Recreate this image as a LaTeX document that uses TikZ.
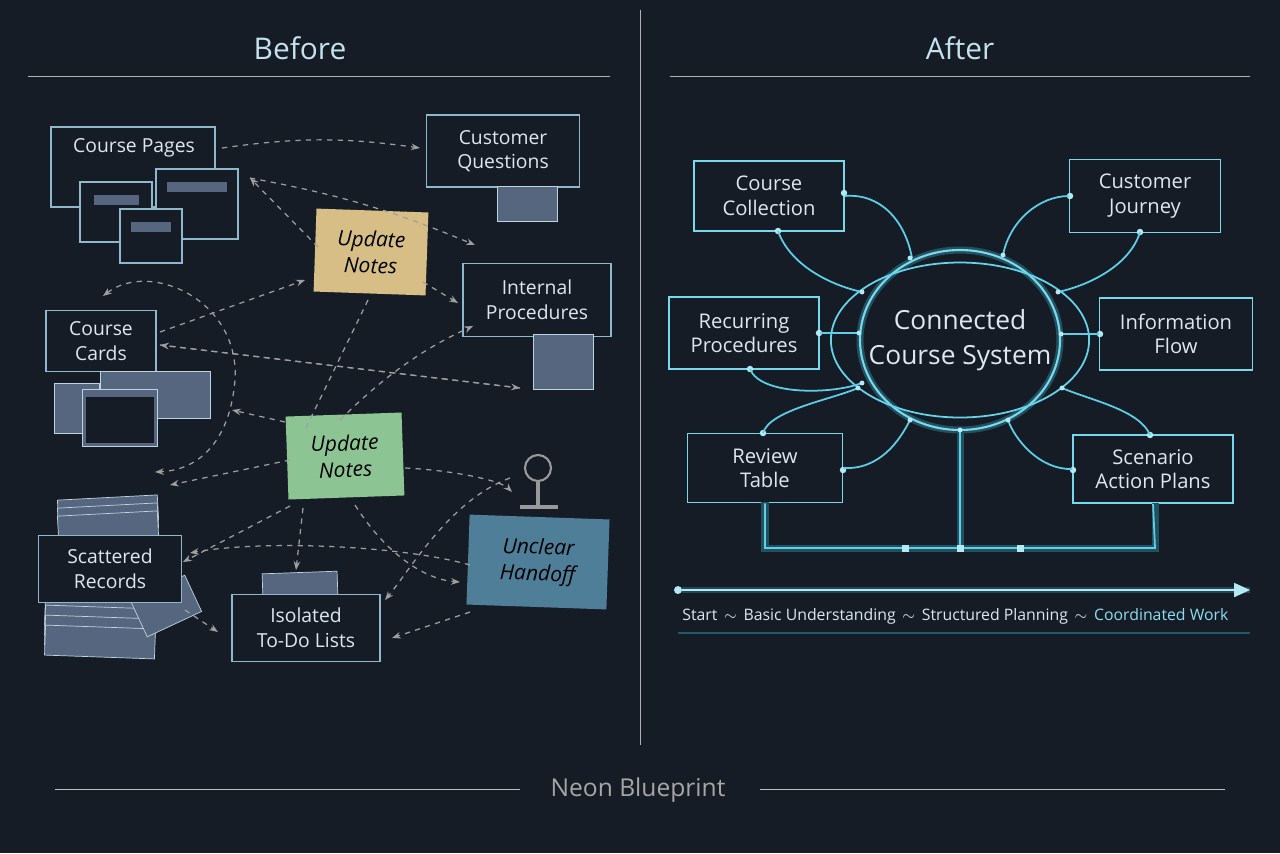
\documentclass[tikz,border=0pt]{standalone}
\usepackage{fontspec}
\setmainfont{Open Sans}
\usetikzlibrary{calc,arrows.meta,shapes.geometric}
\definecolor{bgdark}{HTML}{161C26}
\definecolor{wire}{HTML}{8FB8CC}
\definecolor{inktext}{HTML}{DCE7EF}
\definecolor{neon}{HTML}{3FC8E4}
\definecolor{paper}{HTML}{56667E}
\definecolor{noteyellow}{HTML}{D6BE86}
\definecolor{notegreen}{HTML}{8CC593}
\definecolor{noteblue}{HTML}{4F7E99}
\tikzset{
  box/.style={rectangle,draw=wire,line width=0.9pt,fill=bgdark,text=inktext,align=center,font=\fontsize{11}{14}\selectfont},
  sbox/.style={rectangle,draw=wire,line width=0.7pt,fill=bgdark},
  sheet/.style={rectangle,draw=wire!60,fill=paper},
  note/.style={rectangle,align=center,text=black,font=\itshape\fontsize{12}{15}\selectfont},
  flow/.style={draw=gray!75,dashed,line width=0.7pt,-{Stealth[length=5pt]}},
  nbox/.style={rectangle,draw=neon!70,line width=0.9pt,fill=bgdark,text=inktext,align=center,font=\fontsize{11.5}{14}\selectfont},
  link/.style={draw=neon!85,line width=1pt},
  glow/.style={draw=neon!30!bgdark,line width=4pt},
  dot/.style={circle,fill=neon!40!white,inner sep=1.3pt}
}
\begin{document}
\begin{tikzpicture}[x=0.02cm,y=-0.02cm]
\fill[bgdark] (0,0) rectangle (1280,853);
\useasboundingbox (0,0) rectangle (1280,853);

% headers
\node[text=inktext!85!neon,font=\fontsize{17}{20}\selectfont] (before) at (300,48) {Before};
\node[text=inktext!85!neon,font=\fontsize{17}{20}\selectfont] (after) at (960,48) {After};
\draw[gray!60] (28,76) -- (610,76);
\draw[gray!60] (670,76) -- (1250,76);
\draw[gray!60] (640,10) -- (640,745);
\node[text=gray!70,font=\fontsize{14}{16}\selectfont] (footer) at (638,790) {Neon Blueprint};
\draw[gray!50] (55,789) -- (520,789);
\draw[gray!50] (760,789) -- (1225,789);

% before
\node[sbox,minimum width=3.28cm,minimum height=1.6cm] (cpages) at (133,167) {};
\node[text=inktext,font=\fontsize{11}{14}\selectfont] (cpagest) at (134,148) {Course Pages};
\node[sbox,minimum width=1.44cm,minimum height=1.2cm] (pg1) at (116,212) {};
\node[sbox,minimum width=1.64cm,minimum height=1.4cm] (pg2) at (197,204) {};
\node[sbox,minimum width=1.24cm,minimum height=1.08cm] (pg3) at (151,236) {};
\foreach \p/\w in {pg1/0.9,pg2/1.2,pg3/0.8}
  \fill[paper] ($(\p.north)+(-\w*25,14)$) rectangle ($(\p.north)+(\w*25,24)$);
\node[box,minimum width=3.06cm,minimum height=1.44cm] (custq) at (503,151) {Customer\\Questions};
\node[sheet,minimum width=1.2cm,minimum height=0.7cm] (custqd) at (527,204) {};
\node[note,fill=noteyellow,minimum width=2.24cm,minimum height=1.66cm,rotate=-2] (upd1) at (371,252) {Update\\Notes};
\node[box,minimum width=2.96cm,minimum height=1.46cm] (intp) at (537,300) {Internal\\Procedures};
\node[sheet,minimum width=1.2cm,minimum height=1.1cm] (intpd) at (563,362) {};
\node[box,minimum width=2.2cm,minimum height=1.22cm] (ccards) at (101,341) {Course\\Cards};
\node[sheet,minimum width=2.2cm,minimum height=0.95cm] (scr1) at (155,395) {};
\node[sheet,minimum width=0.9cm,minimum height=1.0cm] (scr2) at (77,408) {};
\node[sheet,minimum width=1.5cm,minimum height=1.15cm] (scr3) at (120,418) {};
\fill[bgdark] ($(scr3.south west)+(4,-4)$) rectangle ($(scr3.north east)+(-4,8)$);
\node[note,fill=notegreen,minimum width=2.32cm,minimum height=1.66cm,rotate=2] (upd2) at (345,456) {Update\\Notes};
\draw[gray!80,line width=1.2pt,fill=bgdark] (538,468) circle (13);
\draw[gray!80,line width=2pt] (538,482) -- (538,505) (520,507) -- (558,507);
\node[note,fill=noteblue,minimum width=2.8cm,minimum height=1.8cm,rotate=-2] (handoff) at (538,562) {Unclear\\Handoff};
\foreach \d in {0,8,16}
  \node[sheet,minimum width=2.0cm,minimum height=0.5cm,rotate=3] at (108,510+\d) {};
\foreach \d in {0,10,20,30}
  \node[sheet,minimum width=2.2cm,minimum height=0.6cm,rotate=-2] at (100,612+\d) {};
\node[sheet,minimum width=1.2cm,minimum height=0.8cm,rotate=25] (recd) at (166,606) {};
\node[box,minimum width=2.86cm,minimum height=1.34cm] (srec) at (110,569) {Scattered\\Records};
\node[sheet,minimum width=1.5cm,minimum height=0.5cm,rotate=2] (todod) at (300,585) {};
\node[box,minimum width=2.96cm,minimum height=1.34cm] (todo) at (306,628) {Isolated\\To-Do Lists};

\draw[flow] (222,148) to[bend left=8] (420,148);
\draw[flow] (250,178) to[bend left=6] (475,245);
\draw[flow] (318,247) -- (250,178);
\draw[flow] (423,282) -- (458,303);
\draw[flow] (160,332) -- (305,280);
\draw[flow] (520,388) -- (160,345);
\draw[flow] (160,345) -- (520,388);
\draw[flow,-] (368,300) -- (305,430);
\draw[flow] (285,422) -- (232,410);
\draw[flow] (340,420) .. controls (380,380) and (420,350) .. (473,326);
\draw[flow,{Stealth[length=5pt]}-{Stealth[length=5pt]}] (103,296) .. controls (150,260) and (240,300) .. (235,380) .. controls (230,440) and (200,470) .. (155,472);
\draw[flow] (290,460) -- (170,485);
\draw[flow] (290,506) -- (183,562);
\draw[flow] (405,468) .. controls (450,470) and (500,480) .. (512,492);
\draw[flow] (470,565) .. controls (400,545) and (260,540) .. (190,553);
\draw[flow] (355,505) .. controls (390,560) and (430,580) .. (460,582);
\draw[flow] (510,478) .. controls (450,500) and (410,570) .. (385,600);
\draw[flow] (303,508) -- (296,570);
\draw[flow] (470,612) -- (392,638);
\draw[flow] (185,610) -- (218,632);

% after
\node[nbox,minimum width=3.0cm,minimum height=1.4cm] (ccoll) at (769,196) {Course\\Collection};
\node[nbox,minimum width=3.02cm,minimum height=1.46cm] (cjour) at (1145,196) {Customer\\Journey};
\node[nbox,minimum width=3.0cm,minimum height=1.44cm] (rproc) at (744,333) {Recurring\\Procedures};
\node[nbox,minimum width=3.06cm,minimum height=1.44cm] (iflow) at (1176,334) {Information\\Flow};
\node[nbox,minimum width=3.1cm,minimum height=1.38cm] (rtab) at (765,468) {Review\\Table};
\node[nbox,minimum width=3.2cm,minimum height=1.36cm] (splan) at (1153,469) {Scenario\\Action Plans};
\draw[glow] (960,340) ellipse (100 and 90);
\draw[neon!70!white,line width=1.2pt] (960,340) ellipse (100 and 90);
\node[draw=neon!80!white,line width=1pt,ellipse,inner sep=0pt,minimum width=3.5cm,minimum height=3.1cm,text=inktext,font=\fontsize{15}{20}\selectfont,align=center] (core) at (960,340) {Connected\\Course System};

\foreach \a/\b in {844/193, 778/231, 1070/196, 1140/232, 819/333, 750/369, 1100/334, 843/470, 763/433, 1073/470, 1150/435}
  \node[dot] at (\a,\b) {};
\draw[link] (ccoll.east) .. controls (880,193) and (905,220) .. (912,258);
\draw[link] (778,231) .. controls (790,265) and (830,285) .. (862,292);
\draw[link] (cjour.west) .. controls (1040,196) and (1010,220) .. (1003,255);
\draw[link] (1140,232) .. controls (1130,265) and (1090,285) .. (1058,292);
\draw[link] (rproc.east) -- (859,333);
\draw[link] (750,369) .. controls (760,395) and (830,395) .. (862,383);
\draw[link] (iflow.west) -- (1061,334);
\draw[link] (rtab.east) .. controls (880,470) and (900,440) .. (910,420);
\draw[link] (763,433) .. controls (770,410) and (830,400) .. (858,388);
\draw[link] (splan.west) .. controls (1040,470) and (1015,440) .. (1008,420);
\draw[link] (1150,435) .. controls (1140,410) and (1090,400) .. (1062,388);
\draw[glow] (765,502) -- (765,548) -- (1155,548) -- (1155,503);
\draw[glow] (960,431) -- (960,548);
\draw[link] (rtab.south) -- (765,548) -- (1155,548) -- (splan.south);
\draw[link] (960,430) -- (960,548);
\foreach \x in {905,960,1020} \node[dot,rectangle,inner sep=2pt] at (\x,548) {};
\foreach \x/\y in {910/258,862/292,1003/255,1058/292,859/333,862/383,1061/334,910/420,858/388,1008/420,1062/388,960/430}
  \node[dot,inner sep=1pt] at (\x,\y) {};

% timeline
\node[dot,inner sep=1.6pt] (tstart) at (678,590) {};
\coordinate (tend) at (1250,590);
\draw[draw=neon!25!bgdark,line width=3pt] (tstart) -- (tend);
\draw[neon!40!white,line width=0.8pt,-{Triangle[length=9pt,width=8pt]}] (tstart) -- (tend);
\node[anchor=west,text=inktext,font=\fontsize{9}{12}\selectfont,inner sep=0pt] (tline) at (682,616) {Start\,~$\sim$~\,Basic Understanding\,~$\sim$~\,Structured Planning\,~$\sim$~\,\textcolor{neon!60!white}{Coordinated Work}};
\draw[neon!35!bgdark,line width=0.8pt] (678,633) -- (1250,633);
\end{tikzpicture}
\end{document}
